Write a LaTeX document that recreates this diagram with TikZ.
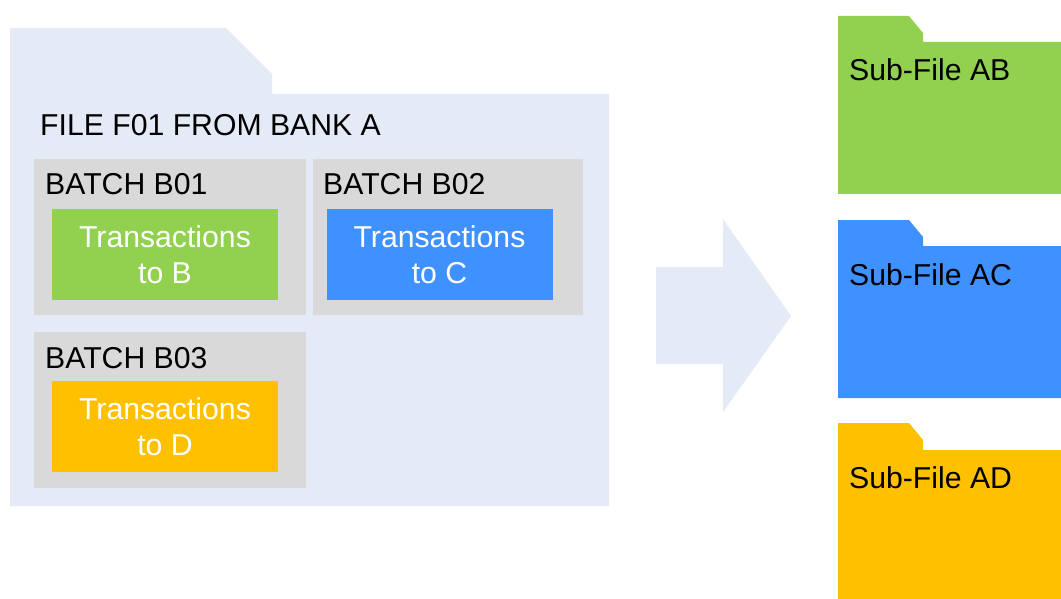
\documentclass[tikz,border=0pt]{standalone}
\usepackage{fontspec}
\setmainfont{Liberation Sans}
\definecolor{filebg}{HTML}{E4EBF6}
\definecolor{batchgray}{HTML}{D9D9D9}
\definecolor{txgreen}{HTML}{92D050}
\definecolor{txblue}{HTML}{3F91FF}
\definecolor{txorange}{HTML}{FFC000}
\begin{document}
\begin{tikzpicture}[x=1pt,y=-1pt,
    lbl/.style={anchor=base west,inner sep=0pt,font=\fontsize{30.2}{36.5}\selectfont},
    batchbox/.style={anchor=north west,inner sep=0pt,fill=batchgray,minimum height=156pt},
    txbox/.style={inner sep=0pt,align=center,text=white,minimum width=226pt,minimum height=91pt,font=\fontsize{30.2}{36.5}\selectfont}]
    \useasboundingbox (0,0) rectangle (1061,599);

    % file from bank A
    \fill[filebg] (10,28) -- (226,28) -- (272,74) -- (272,94) -- (609,94) -- (609,506) -- (10,506) -- cycle;
    \node[lbl] (file) at (40,136) {FILE F01 FROM BANK A};

    \node[batchbox,minimum width=272pt] (b01) at (34,159) {};
    \node[batchbox,minimum width=270pt] (b02) at (313,159) {};
    \node[batchbox,minimum width=272pt] (b03) at (34,332) {};
    \node[lbl] (b01lbl) at (45,195) {BATCH B01};
    \node[lbl] (b02lbl) at (323,195) {BATCH B02};
    \node[lbl] (b03lbl) at (45,368) {BATCH B03};

    \node[txbox,fill=txgreen] (txB) at (165,254.5) {Transactions\\to B};
    \node[txbox,fill=txblue] (txC) at (439.5,254.5) {Transactions\\to C};
    \node[txbox,fill=txorange] (txD) at (165,426.5) {Transactions\\to D};

    % arrow
    \fill[filebg] (656,267) -- (723,267) -- (723,219) -- (791,316) -- (723,412) -- (723,364) -- (656,364) -- cycle;

    % sub-files
    \fill[txgreen] (838,16) -- (909,16) -- (923,33) -- (923,42) -- (1061,42) -- (1061,194) -- (838,194) -- cycle;
    \fill[txblue] (838,220) -- (909,220) -- (923,237) -- (923,246) -- (1061,246) -- (1061,398) -- (838,398) -- cycle;
    \fill[txorange] (838,423) -- (909,423) -- (923,440) -- (923,450) -- (1061,450) -- (1061,599) -- (838,599) -- cycle;
    \node[lbl] (subAB) at (849,81) {Sub-File AB};
    \node[lbl] (subAC) at (849,285) {Sub-File AC};
    \node[lbl] (subAD) at (849,488) {Sub-File AD};

\end{tikzpicture}
\end{document}
